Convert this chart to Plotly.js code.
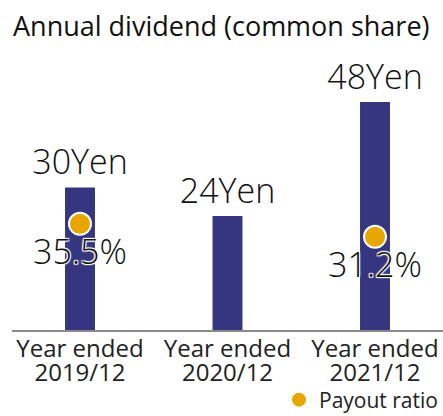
<!DOCTYPE html>
<html>
<head>
<meta charset="utf-8">
<script src="https://cdn.plot.ly/plotly-3.0.1.min.js"></script>
<style>html,body{margin:0;padding:0;background:#fff;}#chart{width:443px;height:416px;}</style>
</head>
<body>
<div id="chart"></div>
<script>
const categories = ['2019/12', '2020/12', '2021/12'];
const dividendYen = [30, 24, 48];
const payoutRatio = [35.5, null, 31.2];
const tickPrefix = 'Year ended';
const titleText = 'Annual dividend (common share)';
const legendName = 'Payout ratio';

const FONT = '"Open Sans", "Noto Sans", sans-serif';
const barColor = '#35367f';
const dotColor = '#e8a600';

const tickText = categories.map(c =>
  '<span style="font-size:24px">' + tickPrefix + '</span><br><span style="font-size:24px">' + c + '</span>');

const bars = {
  type: 'bar',
  x: categories,
  y: dividendYen,
  text: dividendYen.map(v => v + 'Yen'),
  textposition: 'outside',
  constraintext: 'none',
  cliponaxis: false,
  textfont: {family: FONT, size: 34, color: '#111', weight: 300},
  marker: {color: barColor},
  showlegend: false,
  hoverinfo: 'skip'
};

const dots = {
  type: 'scatter',
  mode: 'markers+text',
  name: legendName,
  x: categories,
  y: payoutRatio,
  yaxis: 'y2',
  text: payoutRatio.map(v => v == null ? '' : v.toFixed(1) + '%'),
  textposition: 'bottom center',
  cliponaxis: false,
  textfont: {family: FONT, size: 34, color: '#111', weight: 300,
    shadow: '#fff 1px 1px 1px, #fff -1px -1px 1px, #fff 1px -1px 1px, #fff -1px 1px 1px'},
  marker: {color: dotColor, size: 22, line: {color: '#fff', width: 2}},
  hoverinfo: 'skip'
};

const layout = {
  width: 443, height: 416,
  margin: {l: 12, r: 0, t: 60, b: 86, autoexpand: false},
  paper_bgcolor: '#fff', plot_bgcolor: '#fff',
  font: {family: FONT, color: '#111'},
  title: {text: titleText, font: {family: FONT, size: 27, color: '#111', weight: 500},
    xref: 'container', x: 13/443, xanchor: 'left', yref: 'container', y: 1 - 27/416, yanchor: 'middle'},
  bargap: 0.797,
  xaxis: {
    type: 'category',
    range: [-0.461, 2.461],
    tickvals: categories,
    ticktext: tickText,
    tickfont: {family: FONT, size: 18, color: '#222'},
    ticklabelstandoff: 4,
    automargin: false,
    showline: true, linecolor: '#8a8a8a', linewidth: 1.5,
    ticks: '', showgrid: false, zeroline: false, fixedrange: true
  },
  yaxis: {range: [0, 56.84], visible: false, showgrid: false, zeroline: false, fixedrange: true},
  yaxis2: {range: [0, 90.3], overlaying: 'y', visible: false, showgrid: false, zeroline: false, fixedrange: true},
  showlegend: true,
  legend: {orientation: 'h', xref: 'container', x: 1, xanchor: 'right', yref: 'container', y: 1 - 400/416, yanchor: 'middle',
    font: {family: FONT, size: 21, color: '#222'}, bgcolor: 'rgba(0,0,0,0)', itemwidth: 30}
};

Plotly.newPlot('chart', [bars, dots], layout, {displayModeBar: false, staticPlot: true});
</script>
</body>
</html>
